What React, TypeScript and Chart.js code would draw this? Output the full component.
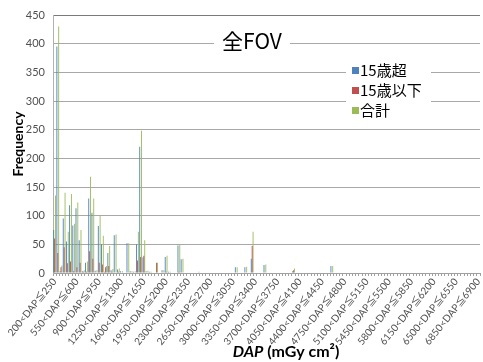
import React, { useEffect, useRef } from "react";
import { Chart, registerables } from "chart.js";

Chart.register(...registerables);

const FONT = "Lato, 'Noto Sans CJK JP', sans-serif";
const CJK = "'Noto Sans CJK JP', Lato, sans-serif";

const TITLE = "全FOV";
const SERIES_NAMES = ["15歳超", "15歳以下", "合計"];
const SERIES_COLORS = ["#4F81BD", "#C0504D", "#9BBB59"];
const Y_TITLE = "Frequency";
const X_TITLE_ITALIC = "DAP";
const X_TITLE_REST = " (mGy cm²)";

// DAP bins: lower edges from 200 to 6850, width 50
const BIN_START = 200;
const BIN_WIDTH = 50;
const BIN_COUNT = 134;
const categories: string[] = Array.from(
  { length: BIN_COUNT },
  (_, i) => `${BIN_START + i * BIN_WIDTH}<DAP≦${BIN_START + (i + 1) * BIN_WIDTH}`
);
const LABEL_EVERY = 7;

const over15: number[] = [
  75, 395, 3, 95, 55, 118, 83, 113, 57, 3,
  18, 130, 105, 4, 82, 50, 2, 35, 5, 66,
  6, 3, 1, 52, 3, 2, 50, 220, 27, 3,
  2, 0, 0, 0, 5, 28, 2, 0, 1, 48,
  24, 1, 0, 0, 0, 1, 0, 0, 0, 0,
  0, 0, 0, 0, 0, 0, 0, 10, 0, 0,
  10, 0, 25, 0, 0, 0, 14, 0, 0, 0,
  0, 0, 0, 0, 0, 3, 0, 0, 0, 0,
  0, 0, 0, 0, 0, 0, 0, 12, 0, 0,
  0, 0, 0, 0, 0, 0, 0, 0, 0, 0,
  0, 0, 0, 0, 0, 0, 0, 0, 0, 0,
  0, 0, 0, 0, 0, 0, 0, 0, 0, 0,
  0, 0, 0, 0, 0, 0, 0, 0, 0, 0,
  0, 0, 0, 0,
];

const under15: number[] = [
  60, 35, 10, 45, 17, 20, 3, 10, 18, 2,
  2, 38, 25, 1, 18, 15, 10, 12, 2, 1,
  2, 0, 0, 0, 0, 1, 22, 28, 30, 1,
  0, 0, 18, 0, 0, 2, 0, 0, 0, 2,
  1, 0, 0, 0, 0, 1, 0, 0, 0, 0,
  0, 0, 0, 0, 0, 0, 0, 0, 0, 0,
  1, 0, 47, 0, 0, 0, 1, 0, 0, 0,
  0, 0, 0, 0, 0, 5, 0, 0, 0, 0,
  0, 0, 0, 0, 0, 0, 0, 0, 0, 0,
  0, 0, 0, 0, 0, 0, 0, 0, 0, 0,
  0, 0, 0, 0, 0, 0, 0, 0, 0, 0,
  0, 0, 0, 0, 0, 0, 0, 0, 0, 0,
  0, 0, 0, 0, 0, 0, 0, 0, 0, 0,
  0, 0, 0, 0,
];

const total: number[] = [
  135, 430, 13, 140, 72, 138, 86, 123, 75, 5,
  20, 168, 130, 5, 100, 65, 12, 47, 7, 67,
  8, 3, 1, 52, 3, 3, 72, 248, 57, 4,
  2, 0, 18, 0, 5, 30, 2, 0, 1, 50,
  25, 1, 0, 0, 0, 2, 0, 0, 0, 0,
  0, 0, 0, 0, 0, 0, 0, 10, 0, 0,
  11, 0, 72, 0, 0, 0, 15, 0, 0, 0,
  0, 0, 0, 0, 0, 8, 0, 0, 0, 0,
  0, 0, 0, 0, 0, 0, 0, 12, 0, 0,
  0, 0, 0, 0, 0, 0, 0, 0, 0, 0,
  0, 0, 0, 0, 0, 0, 0, 0, 0, 0,
  0, 0, 0, 0, 0, 0, 0, 0, 0, 0,
  0, 0, 0, 0, 0, 0, 0, 0, 0, 0,
  0, 0, 0, 0,
];

const Y_MIN = 0;
const Y_MAX = 450;
const Y_STEP = 50;

const overlayPlugin = {
  id: "overlay",
  afterDraw(chart: any) {
    const ctx = chart.ctx as CanvasRenderingContext2D;
    const area = chart.chartArea;
    ctx.save();

    // Title inside the plot with white background
    ctx.font = `21px ${CJK}`;
    const tw = ctx.measureText(TITLE).width;
    const tcx = 252;
    const tcy = 41;
    ctx.fillStyle = "#ffffff";
    ctx.fillRect(tcx - tw / 2 - 8, tcy - 14, tw + 16, 28);
    ctx.fillStyle = "#000000";
    ctx.textAlign = "center";
    ctx.textBaseline = "middle";
    ctx.fillText(TITLE, tcx, tcy);

    // Legend box
    const lx = 346;
    const ly = 59;
    const lw = 85;
    const rowH = 20;
    ctx.fillStyle = "#ffffff";
    ctx.fillRect(lx, ly, lw, rowH * 3 + 4);
    ctx.font = `15px ${CJK}`;
    ctx.textAlign = "left";
    ctx.textBaseline = "middle";
    SERIES_NAMES.forEach((name, i) => {
      const cy = ly + 11 + i * rowH;
      ctx.fillStyle = SERIES_COLORS[i];
      ctx.fillRect(lx + 6, cy - 3, 7, 7);
      ctx.fillStyle = "#000000";
      ctx.fillText(name, lx + 14, cy);
    });

    // Y axis title
    ctx.save();
    ctx.translate(18, (area.top + area.bottom) / 2);
    ctx.rotate(-Math.PI / 2);
    ctx.font = `bold 14px ${FONT}`;
    ctx.fillStyle = "#000000";
    ctx.textAlign = "center";
    ctx.textBaseline = "middle";
    ctx.fillText(Y_TITLE, 0, 0);
    ctx.restore();

    // X axis title: italic "DAP" + bold rest
    ctx.font = `italic bold 16px ${FONT}`;
    const w1 = ctx.measureText(X_TITLE_ITALIC).width;
    ctx.font = `bold 16px ${FONT}`;
    const w2 = ctx.measureText(X_TITLE_REST).width;
    const xc = 286;
    const xy = 352;
    const start = xc - (w1 + w2) / 2;
    ctx.fillStyle = "#000000";
    ctx.textBaseline = "middle";
    ctx.textAlign = "left";
    ctx.font = `italic bold 16px ${FONT}`;
    ctx.fillText(X_TITLE_ITALIC, start, xy);
    ctx.font = `bold 16px ${FONT}`;
    ctx.fillText(X_TITLE_REST, start + w1, xy);

    ctx.restore();
  },
};

export default function App() {
  const canvasRef = useRef<HTMLCanvasElement | null>(null);

  useEffect(() => {
    if (!canvasRef.current) return;
    const chart = new Chart(canvasRef.current, {
      type: "bar",
      data: {
        labels: categories,
        datasets: [
          { label: SERIES_NAMES[0], data: over15, backgroundColor: SERIES_COLORS[0] },
          { label: SERIES_NAMES[1], data: under15, backgroundColor: SERIES_COLORS[1] },
          { label: SERIES_NAMES[2], data: total, backgroundColor: SERIES_COLORS[2] },
        ],
      },
      options: {
        animation: false,
        responsive: true,
        maintainAspectRatio: false,
        datasets: {
          bar: { categoryPercentage: 0.85, barPercentage: 1.0, borderWidth: 0 },
        },
        layout: { padding: { left: 0, right: 3, top: 15, bottom: 0 } },
        plugins: {
          legend: { display: false },
          title: { display: false },
          tooltip: { enabled: false },
        },
        scales: {
          x: {
            grid: {
              display: true,
              drawOnChartArea: false,
              drawTicks: true,
              tickLength: 3,
              color: "#a0a0a0",
            },
            border: { display: true, color: "#a0a0a0" },
            ticks: {
              autoSkip: false,
              maxRotation: 51,
              minRotation: 51,
              padding: 0,
              color: "#505050",
              font: { size: 10, family: FONT },
              callback: (_v: any, i: number) => (i % LABEL_EVERY === 0 ? categories[i] : ""),
            },
            afterFit: (s: any) => {
              s.height = 89;
              s.paddingLeft = 0;
              s.paddingRight = 0;
            },
          },
          y: {
            min: Y_MIN,
            max: Y_MAX,
            ticks: {
              stepSize: Y_STEP,
              padding: 8,
              color: "#505050",
              font: { size: 11, family: FONT },
            },
            grid: {
              drawTicks: false,
              color: (c: any) => (c.tick && c.tick.value === Y_MAX ? "#7a7a7a" : "#a8a8a8"),
            },
            border: { display: true, color: "#b0b0b0" },
            afterFit: (s: any) => {
              s.width = 53;
            },
          },
        },
      },
      plugins: [overlayPlugin],
    });
    return () => chart.destroy();
  }, []);

  return (
    <div style={{ position: "fixed", left: 0, top: 0, width: 483, height: 362, background: "#fff" }}>
      <canvas ref={canvasRef} />
    </div>
  );
}
